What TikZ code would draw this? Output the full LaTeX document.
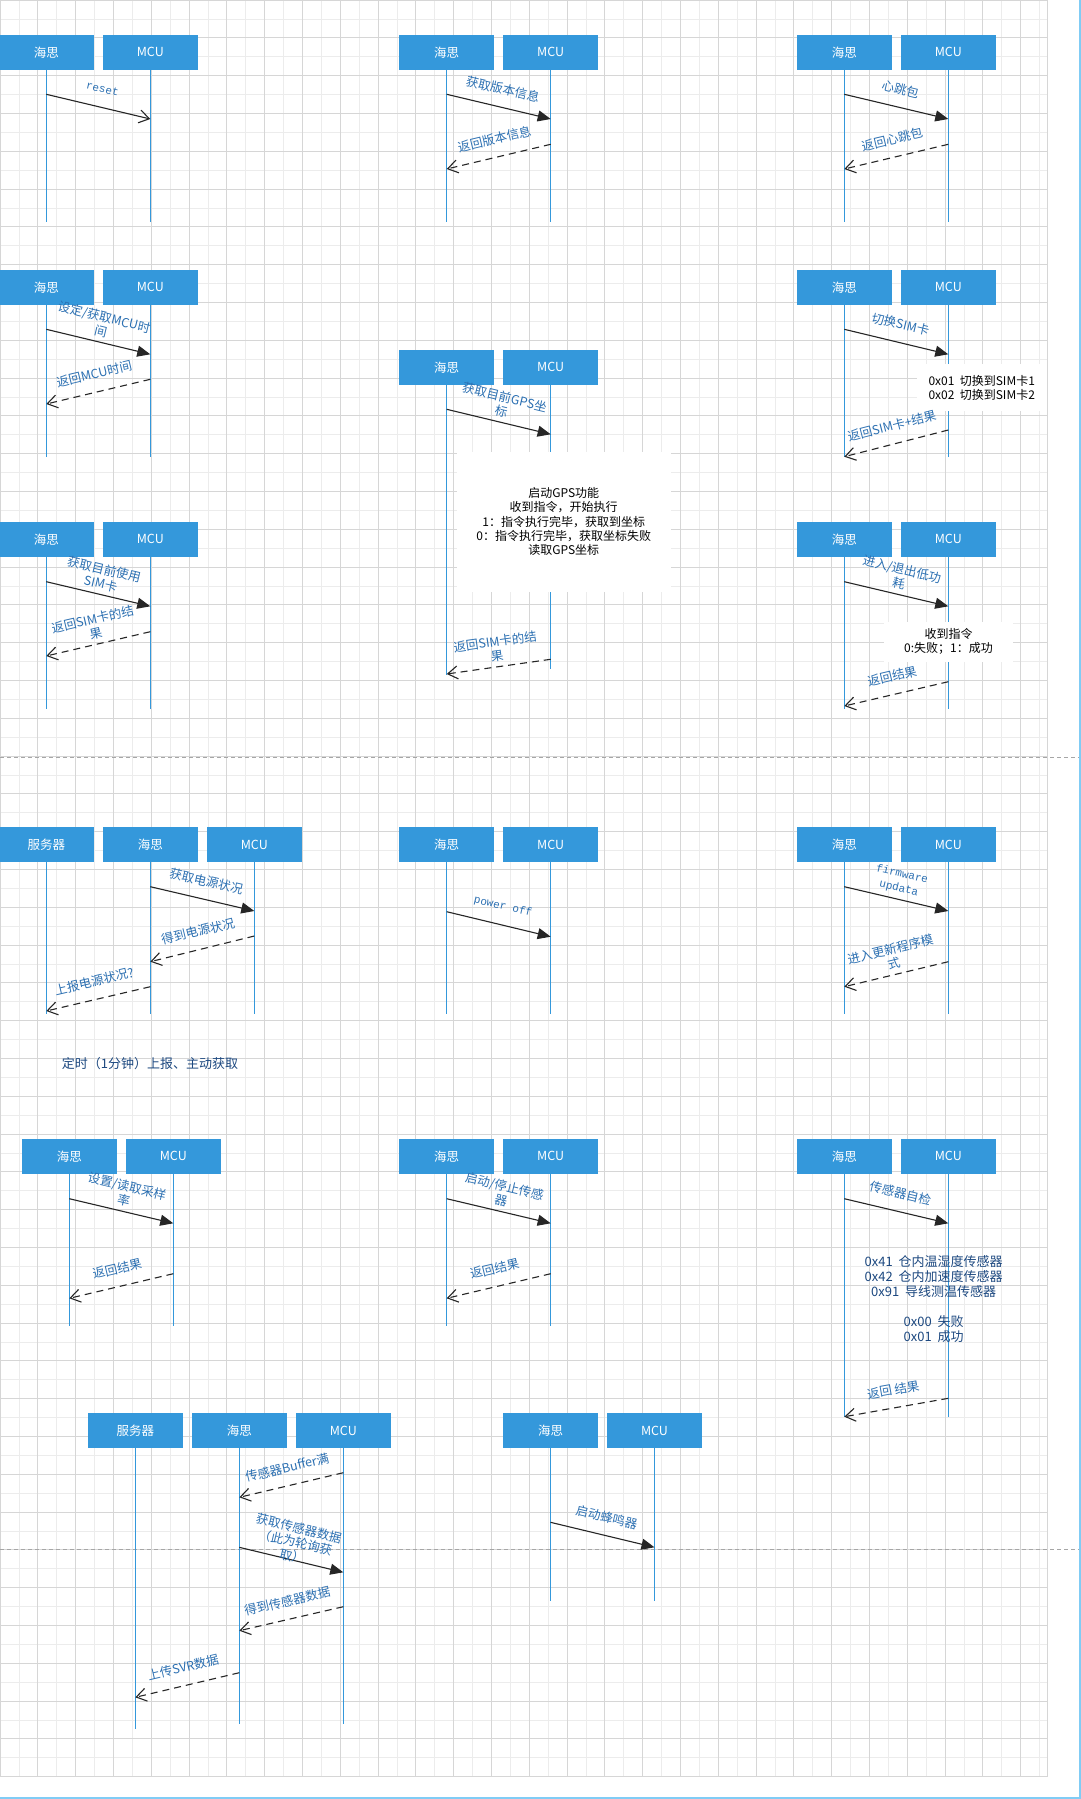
\documentclass[tikz,border=0pt]{standalone}
\usepackage{fontspec}
\newfontfamily\zhfont{Noto Sans CJK SC}
\newfontfamily\codefont{Liberation Mono}
\usepackage{tikz}
\usetikzlibrary{arrows.meta}
\definecolor{lifeblue}{RGB}{52,152,219}
\definecolor{labelblue}{RGB}{44,112,178}
\definecolor{noteblue}{RGB}{28,72,128}
\definecolor{gridminor}{RGB}{236,236,236}
\definecolor{gridmajor}{RGB}{214,214,214}
\definecolor{edgeblue}{RGB}{128,204,245}

\begin{document}
\begin{tikzpicture}[x=1pt,y=-1pt,
    actor/.style={fill=lifeblue,text=white,minimum width=95pt,minimum height=34.7pt,inner sep=0pt,
      font=\zhfont\fontsize{12.5}{14}\selectfont},
    life/.style={draw=lifeblue,line width=1.2pt},
    call/.style={draw=black!85,line width=1.1pt,-{Triangle[length=13pt,width=11pt]}},
    plain/.style={draw=black!85,line width=1.1pt,-{Straight Barb[length=10pt,width=13pt]}},
    reply/.style={draw=black!85,line width=1.1pt,dash pattern=on 7pt off 5pt,
      -{Straight Barb[length=10pt,width=13pt]}},
    lbl/.style={sloped,above=18pt,anchor=center,inner sep=0pt,align=center,text=labelblue,
      font=\zhfont\fontsize{12.5}{14.5}\selectfont},
    code/.style={lbl,font=\codefont\fontsize{11}{14.5}\selectfont},
    notebox/.style={fill=white,inner sep=0pt,align=center,font=\zhfont\fontsize{12}{14.3}\selectfont}]
  \useasboundingbox (0,0) rectangle (1081,1799);
  \fill[white] (0,0) rectangle (1081,1799);
  % grid
  \foreach \k in {0,...,55}
    \draw[gridminor,line width=0.8pt] (\k*18.9,0) -- (\k*18.9,1777);
  \foreach \k in {0,...,94}
    \draw[gridminor,line width=0.8pt] (0,\k*18.9) -- (1047,\k*18.9);
  \foreach \k in {0,2,...,54}
    \draw[gridmajor,line width=0.8pt] (\k*18.9,0) -- (\k*18.9,1777);
  \foreach \k in {0,2,...,94}
    \draw[gridmajor,line width=0.8pt] (0,\k*18.9) -- (1047,\k*18.9);
  \draw[gridmajor,line width=0.8pt] (1047,0) -- (1047,1777);
  \draw[black!35,dash pattern=on 4pt off 3pt] (0,757) -- (1081,757);
  \draw[black!35,dash pattern=on 4pt off 3pt] (0,1549) -- (1081,1549);
  \draw[edgeblue,line width=1.5pt] (1080,0) -- (1080,1799);
  \draw[edgeblue,line width=1.5pt] (0,1798) -- (1081,1798);

  % lifeline heads
  \foreach \n/\x/\y in {A/46.3/52.3,B/446.7/52.3,C/844.3/52.3,D/46.3/287.3,E/446.7/367.3,
      F/844.3/287.3,G/46.3/539.3,H/844.3/539.3,I/150.3/844.5,J/446.7/844.5,K/844.3/844.5,
      L/69.3/1156.3,M/446.7/1156.3,N/844.3/1156.3,O/239.3/1430.5,P/550.5/1430.5} {
    \node[actor] (hs\n) at (\x,\y) {海思};
    \node[actor] (mc\n) at (\x+104,\y) {MCU};
  }
  \node[actor] (svI) at (46.3,844.5) {服务器};
  \node[actor] (svO) at (135.3,1430.5) {服务器};

  % lifelines
  \foreach \n/\e in {A/222.3,B/222.3,C/222.3,D/457.3,F/457.3,G/709.3,H/709.3,I/1014.3,
      J/1014.3,K/1014.3,L/1326,M/1326,N/1416.7,O/1724.3,P/1600.7} {
    \draw[life] (hs\n) -- (hs\n |- 0,\e);
    \draw[life] (mc\n) -- (mc\n |- 0,\e);
  }
  \draw[life] (hsE) -- (hsE |- 0,675);
  \draw[life] (mcE) -- (mcE |- 0,669.3);
  \draw[life] (svI) -- (svI |- 0,1014.3);
  \draw[life] (svO) -- (svO |- 0,1729.3);

  % notes
  \node[notebox,minimum width=214pt,minimum height=140pt] (gpsnote) at (563.7,521.7)
    {启动GPS功能\\收到指令，开始执行\\1：指令执行完毕，获取到坐标\\0：指令执行完毕，获取坐标失败\\读取GPS坐标};
  \node[notebox,minimum width=130pt,minimum height=46.7pt] (simnote) at (981.7,387.7)
    {0x01\ \ 切换到SIM卡1\\0x02\ \ 切换到SIM卡2};
  \node[notebox,minimum width=128.4pt,minimum height=40pt] (lpnote) at (948.5,641.7)
    {收到指令\\0:失败；1：成功};
  \node[align=center,text=noteblue,font=\zhfont\fontsize{13}{15}\selectfont] (sensnote) at (933.6,1299)
    {0x41\ \ 仓内温湿度传感器\\0x42\ \ 仓内加速度传感器\\0x91\ \ 导线测温传感器\\~\\0x00\ \ 失败\\0x01\ \ 成功};
  \node[text=noteblue,font=\zhfont\fontsize{13}{15}\selectfont] (timenote) at (150,1064)
    {定时（1分钟）上报、主动获取};

  % messages
  \draw[plain] (hsA |- 0,94.3) -- (mcA |- 0,119) node[code,midway] {reset};
  \draw[call] (hsB |- 0,94.3) -- (mcB |- 0,119) node[lbl,midway] {获取版本信息};
  \draw[reply] (mcB |- 0,144.3) -- (hsB |- 0,169) node[lbl,midway] {返回版本信息};
  \draw[call] (hsC |- 0,94.3) -- (mcC |- 0,119) node[lbl,midway] {心跳包};
  \draw[reply] (mcC |- 0,144.3) -- (hsC |- 0,169) node[lbl,midway] {返回心跳包};

  \draw[call] (hsD |- 0,329.3) -- (mcD |- 0,354.3) node[lbl,midway] {设定/获取MCU时\\间};
  \draw[reply] (mcD |- 0,379.3) -- (hsD |- 0,404) node[lbl,midway] {返回MCU时间};
  \draw[call] (hsE |- 0,409.3) -- (mcE |- 0,434.3) node[lbl,midway] {获取目前GPS坐\\标};
  \draw[reply] (mcE |- 0,659.3) -- (hsE |- 0,674) node[lbl,midway] {返回SIM卡的结\\果};
  \draw[call] (hsF |- 0,329.3) -- (mcF |- 0,354.3) node[lbl,midway] {切换SIM卡};
  \draw[reply] (mcF |- 0,430) -- (hsF |- 0,456.7) node[lbl,midway] {返回SIM卡+结果};

  \draw[call] (hsG |- 0,581.7) -- (mcG |- 0,606.3) node[lbl,midway] {获取目前使用\\SIM卡};
  \draw[reply] (mcG |- 0,631.7) -- (hsG |- 0,656) node[lbl,midway] {返回SIM卡的结\\果};
  \draw[call] (hsH |- 0,581.7) -- (mcH |- 0,606.3) node[lbl,midway] {进入/退出低功\\耗};
  \draw[reply] (mcH |- 0,681.7) -- (hsH |- 0,706) node[lbl,midway] {返回结果};

  \draw[call] (hsI |- 0,886.7) -- (mcI |- 0,911) node[lbl,midway] {获取电源状况};
  \draw[reply] (mcI |- 0,936) -- (hsI |- 0,961.7) node[lbl,midway] {得到电源状况};
  \draw[reply] (hsI |- 0,986.7) -- (svI |- 0,1011) node[lbl,midway] {上报电源状况?};
  \draw[call] (hsJ |- 0,911.7) -- (mcJ |- 0,936.7) node[code,midway] {power off};
  \draw[call] (hsK |- 0,886.7) -- (mcK |- 0,911) node[code,midway] {firmware\\updata};
  \draw[reply] (mcK |- 0,961.7) -- (hsK |- 0,986.7) node[lbl,midway] {进入更新程序模\\式};

  \draw[call] (hsL |- 0,1198.7) -- (mcL |- 0,1223.3) node[lbl,midway] {设置/读取采样\\率};
  \draw[reply] (mcL |- 0,1273.7) -- (hsL |- 0,1298.3) node[lbl,midway] {返回结果};
  \draw[call] (hsM |- 0,1198.7) -- (mcM |- 0,1223.3) node[lbl,midway] {启动/停止传感\\器};
  \draw[reply] (mcM |- 0,1273.7) -- (hsM |- 0,1298.3) node[lbl,midway] {返回结果};
  \draw[call] (hsN |- 0,1198.7) -- (mcN |- 0,1223.3) node[lbl,midway] {传感器自检};
  \draw[reply] (mcN |- 0,1398.3) -- (hsN |- 0,1416.7) node[lbl,midway] {返回 结果};

  \draw[reply] (mcO |- 0,1472.7) -- (hsO |- 0,1497.3) node[lbl,midway] {传感器Buffer满};
  \draw[call] (hsO |- 0,1547.3) -- (mcO |- 0,1572.3) node[lbl,midway] {获取传感器数据\\（此为轮询获\\取）};
  \draw[reply] (mcO |- 0,1606.7) -- (hsO |- 0,1630.7) node[lbl,midway] {得到传感器数据};
  \draw[reply] (hsO |- 0,1672.7) -- (svO |- 0,1697.3) node[lbl,midway] {上传SVR数据};
  \draw[call] (hsP |- 0,1522.3) -- (mcP |- 0,1547.3) node[lbl,midway] {启动蜂鸣器};
\end{tikzpicture}
\end{document}
